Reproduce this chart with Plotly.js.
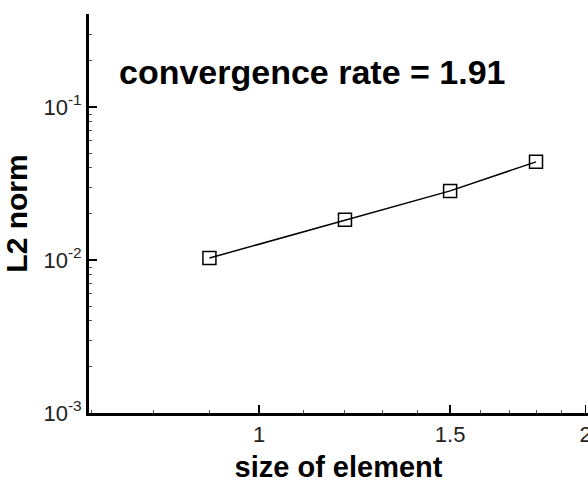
<!DOCTYPE html>
<html>
<head>
<meta charset="utf-8">
<script src="https://cdn.plot.ly/plotly-3.0.1.min.js"></script>
<style>html,body{margin:0;padding:0;background:#fff;}#chart{width:588px;height:483px;}</style>
</head>
<body>
<div id="chart"></div>
<script>
// Data
const elementSize = [0.9, 1.2, 1.5, 1.8];
const l2Norm = [0.0103, 0.0183, 0.0283, 0.0438];
const annotationText = "convergence rate = 1.91";
const xTitle = "size of element";
const yTitle = "L2 norm";
const xTickVals = [1, 1.5, 2];
const xTickText = ["1", "1.5", "2"];
const yTickVals = [0.001, 0.01, 0.1];
const yTickText = ["10<sup>-3</sup>", "10<sup>-2</sup>", "10<sup>-1</sup>"];

const trace = {
  x: elementSize,
  y: l2Norm,
  type: 'scatter',
  mode: 'lines+markers',
  line: {color: '#000', width: 1.5},
  marker: {symbol: 'square-open', size: 13, color: '#000', line: {width: 1.5, color: '#000'}},
  showlegend: false,
  hoverinfo: 'skip'
};

const layout = {
  width: 588, height: 483,
  margin: {l: 89, r: 0, t: 14, b: 70},
  paper_bgcolor: '#fff', plot_bgcolor: '#fff',
  font: {family: 'Liberation Sans, Arial, sans-serif', color: '#000'},
  xaxis: {
    type: 'log',
    range: [Math.log10(0.697), Math.log10(2.01)],
    tickvals: xTickVals, ticktext: xTickText,
    ticklabeloverflow: 'allow',
    ticks: 'inside', ticklen: 8, tickwidth: 1.5, tickcolor: '#000',
    minor: {tickvals: [0.7,0.8,0.9,1.1,1.2,1.3,1.4,1.6,1.7,1.8,1.9], ticks: 'inside', ticklen: 3, tickwidth: 1, tickcolor: '#555', showgrid: false},
    showline: true, linewidth: 3, linecolor: '#000',
    showgrid: false, zeroline: false, mirror: false,
    tickfont: {size: 22, color: '#222'},
    title: {text: xTitle, font: {size: 29, weight: 'bold', color: '#000'}, standoff: 12}
  },
  yaxis: {
    type: 'log',
    range: [-3, -0.392],
    tickvals: yTickVals, ticktext: yTickText,
    ticks: 'inside', ticklen: 8, tickwidth: 1.5, tickcolor: '#000',
    minor: {tickvals: [0.002,0.003,0.004,0.005,0.006,0.007,0.008,0.009,0.02,0.03,0.04,0.05,0.06,0.07,0.08,0.09,0.2,0.3,0.4], ticks: 'inside', ticklen: 3, tickwidth: 1, tickcolor: '#555', showgrid: false},
    showline: true, linewidth: 3, linecolor: '#000',
    showgrid: false, zeroline: false, mirror: false,
    tickfont: {size: 22, color: '#222'},
    title: {text: yTitle, font: {size: 30, weight: 'bold', color: '#000'}, standoff: 8}
  },
  annotations: [{
    text: annotationText,
    xref: 'paper', yref: 'paper',
    x: 0.056, y: 0.855,
    xanchor: 'left', yanchor: 'middle',
    showarrow: false,
    font: {size: 34, weight: 'bold', color: '#000', family: 'Liberation Sans, Arial, sans-serif'}
  }]
};

Plotly.newPlot('chart', [trace], layout, {staticPlot: true, displayModeBar: false});
</script>
</body>
</html>
